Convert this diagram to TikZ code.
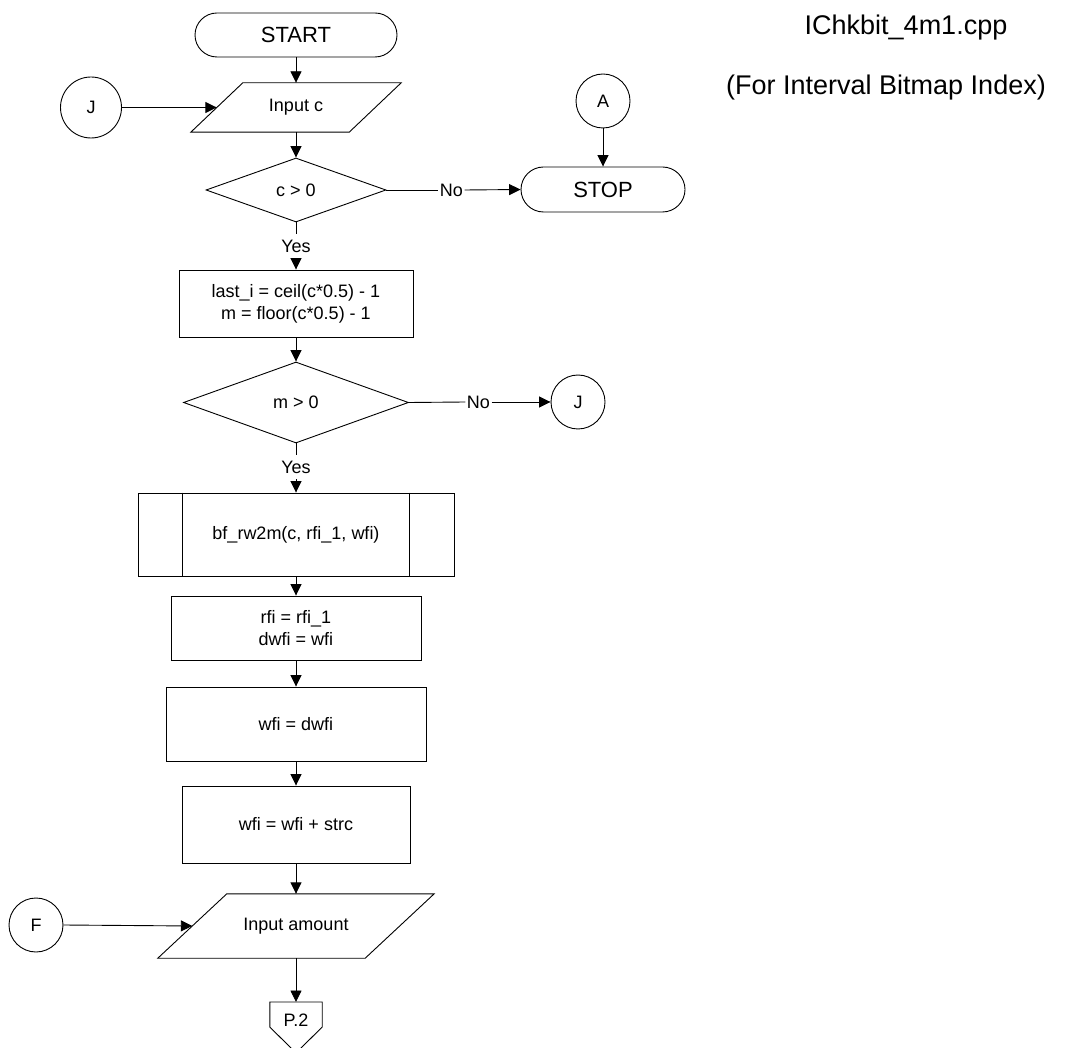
\documentclass[tikz,border=0pt]{standalone}
\usepackage{fontspec}
\setmainfont{Liberation Sans}
\usetikzlibrary{shapes.geometric,shapes.misc,arrows.meta,calc}
\begin{document}
\begin{tikzpicture}[x=1pt,y=-1pt,
  every node/.style={font=\fontsize{18}{22}\selectfont, inner sep=0pt, align=center},
  outline/.style={draw, line width=0.9pt},
  term/.style={outline, rounded rectangle, font=\fontsize{22}{26}\selectfont},
  proc/.style={outline, rectangle},
  decide/.style={outline, diamond},
  conn/.style={outline, circle},
  flow/.style={line width=0.9pt, -{Triangle[length=11.5pt,width=11pt]}},
  plain/.style={line width=0.9pt},
  nolbl/.style={inner xsep=1.5pt, inner ysep=2pt},
  yeslbl/.style={inner xsep=1.5pt, inner ysep=6pt},
  title/.style={font=\fontsize{27}{30}\selectfont}
]
\useasboundingbox (0,0) rectangle (1072,1048);

% header
\node[title] (fname) at (906,28) {IChkbit\_4m1.cpp};
\node[title] (purpose) at (886,88) {(For Interval Bitmap Index)};

% terminals
\node[term, minimum width=202pt, minimum height=44pt] (start) at (296,35) {START};
\node[term, minimum width=164pt, minimum height=45pt] (stop) at (603,189.5) {STOP};

% connectors
\node[conn, minimum size=61pt] (J1) at (91,107.5) {J};
\node[conn, minimum size=54pt] (A) at (603,101) {A};
\node[conn, minimum size=54pt] (J2) at (578,402) {J};
\node[conn, minimum size=54pt] (F) at (36,925) {F};

% input c (parallelogram)
\node[minimum width=210pt, minimum height=49pt] (in1) at (296,107.5) {Input c};
\draw[outline] (in1.south west) -- ($(in1.north west)+(52,0)$) -- (in1.north east)
  -- ($(in1.south east)+(-52,0)$) -- cycle;
\coordinate (jin) at ($(in1.west)+(26,0)$);

% decisions
\node[decide, minimum width=180pt, minimum height=64pt] (d1) at (296,190) {c > 0};
\node[decide, minimum width=225pt, minimum height=81pt] (d2) at (296,402.5) {m > 0};

% processes
\node[proc, minimum width=234pt, minimum height=67pt] (box1) at (296,303.5)
  {last\_i = ceil(c*0.5) - 1\\m = floor(c*0.5) - 1};
\node[proc, minimum width=316pt, minimum height=83pt] (sub) at (296,534.5)
  {bf\_rw2m(c, rfi\_1, wfi)};
\draw[plain] ($(sub.north west)+(45,0)$) -- ($(sub.south west)+(45,0)$);
\draw[plain] ($(sub.north east)+(-45,0)$) -- ($(sub.south east)+(-45,0)$);
\node[proc, minimum width=250pt, minimum height=64pt] (box2) at (296,628)
  {rfi = rfi\_1\\dwfi = wfi};
\node[proc, minimum width=260pt, minimum height=74pt] (box3) at (296,724) {wfi = dwfi};
\node[proc, minimum width=228pt, minimum height=77pt] (box4) at (296,824.5) {wfi = wfi + strc};

% input amount (parallelogram)
\node[minimum width=276pt, minimum height=64pt] (in2) at (296,926) {Input amount};
\draw[outline] (in2.south west) -- ($(in2.north west)+(69,0)$) -- (in2.north east)
  -- ($(in2.south east)+(-69,0)$) -- cycle;
\coordinate (fin) at ($(in2.west)+(34.5,0)$);

% off-page connector
\node[minimum width=52pt, minimum height=36pt, anchor=north] (p2) at (296,1002) {P.2};
\draw[outline] (p2.north west) -- (p2.north east) -- ($(p2.north east)+(0,25)$)
  -- ($(p2.north)+(0,51)$) -- ($(p2.north west)+(0,25)$) -- cycle;

% branch labels
\node[nolbl] (no1) at (451.5,190) {No};
\node[nolbl] (no2) at (478.5,402) {No};
\node[yeslbl] (yes1) at (296,246) {Yes};
\node[yeslbl] (yes2) at (296,467) {Yes};

% flow lines
\draw[flow] (start.south) -- (in1.north);
\draw[flow] (J1.east) -- (jin);
\draw[flow] (in1.south) -- (d1.north);
\draw[plain] (d1.east) -- (no1.west);
\draw[flow] (no1.east) -- (stop.west);
\draw[flow] (A.south) -- (stop.north);
\draw[plain] (d1.south) -- (yes1.north);
\draw[flow] (yes1.south) -- (box1.north);
\draw[flow] (box1.south) -- (d2.north);
\draw[plain] (d2.east) -- (no2.west);
\draw[flow] (no2.east) -- (J2.west);
\draw[plain] (d2.south) -- (yes2.north);
\draw[flow] (yes2.south) -- (sub.north);
\draw[flow] (sub.south) -- (box2.north);
\draw[flow] (box2.south) -- (box3.north);
\draw[flow] (box3.south) -- (box4.north);
\draw[flow] (box4.south) -- (in2.north);
\draw[flow] (F.east) -- (fin);
\draw[flow] (in2.south) -- (p2.north);
\end{tikzpicture}
\end{document}
